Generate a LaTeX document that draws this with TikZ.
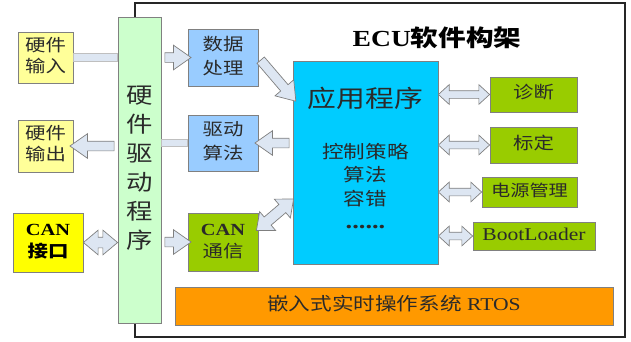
\documentclass[tikz,border=0pt]{standalone}
\usepackage{fontspec}
\setmainfont{Liberation Serif}
\newfontfamily\cjk{Noto Sans CJK SC}
\usetikzlibrary{shapes.arrows,calc}
\definecolor{lyellow}{HTML}{FFFF99}
\definecolor{byellow}{HTML}{FFFF00}
\definecolor{lgreen}{HTML}{CCFFCC}
\definecolor{lblue}{HTML}{99CCFF}
\definecolor{ygreen}{HTML}{99CC00}
\definecolor{cyanb}{HTML}{00CCFF}
\definecolor{orangeb}{HTML}{FF9900}
\definecolor{arrfill}{HTML}{DDE6F2}
\definecolor{arrline}{HTML}{7F7F7F}
\definecolor{boxline}{HTML}{808080}
\definecolor{txt}{HTML}{2A2A2A}
\newcommand\sx[1]{\scalebox{1.2}[1]{\begin{tabular}{@{}c@{}}#1\end{tabular}}}
\newcommand\fs[2]{\fontsize{#1}{#2}\selectfont}
\newcommand\blockarrow[3][]{\path let \p1=(#2), \p2=(#3), \n1={veclen(\x2-\x1,\y2-\y1)}, \n2={atan2(\y2-\y1,\x2-\x1)} in node[#1, minimum height=\n1, rotate=\n2] at ($(\p1)!0.5!(\p2)$) {};}
\begin{document}
\begin{tikzpicture}[x=1pt,y=-1pt,
  box/.style={draw=boxline, line width=0.8pt, inner sep=0pt, text=txt},
  sarr/.style={single arrow, draw=arrline, fill=arrfill, line width=0.7pt, inner xsep=0pt, inner ysep=4.5pt, single arrow head extend=7.5pt, single arrow tip angle=70, outer sep=0pt},
  darrL/.style={double arrow, draw=arrline, fill=arrfill, line width=0.7pt, inner xsep=0pt, inner ysep=5pt, double arrow head extend=7pt, double arrow tip angle=80, outer sep=0pt},
  darrS/.style={double arrow, draw=arrline, fill=arrfill, line width=0.7pt, inner xsep=0pt, inner ysep=3.5pt, double arrow head extend=6pt, double arrow tip angle=85, outer sep=0pt},
  band/.style={fill=arrfill, draw=arrline!50, line width=0.5pt}]
\useasboundingbox (0,0) rectangle (631,341);
% outer frame
\node[draw=black!85, line width=1.3pt, minimum width=490pt, minimum height=334pt, inner sep=0pt] (frame) at (380,170) {};
% title
\node[font=\fs{23}{26}] (title) at (437,38) {\scalebox{1.2}[1]{\textbf{ECU}{\cjk\bfseries 软件构架}}};
% left boxes
\node[box, fill=lyellow, minimum width=55pt, minimum height=51pt, font=\cjk\fs{17}{21}] (in) at (45.5,57.5) {\sx{硬件\\输入}};
\node[box, fill=lyellow, minimum width=55pt, minimum height=52pt, font=\cjk\fs{17}{21}] (out) at (45.5,146) {\sx{硬件\\输出}};
\node[box, fill=byellow, minimum width=70pt, minimum height=59pt, font=\fs{17}{22}, text=black] (can) at (48,242.5) {\sx{\textbf{CAN}\\{\cjk\bfseries 接口}}};
% driver column
\node[box, fill=lgreen, minimum width=43pt, minimum height=306pt, font=\cjk\fs{22}{29}] (drv) at (139.5,170) {\sx{硬\\件\\驱\\动\\程\\序}};
% middle boxes
\node[box, fill=lblue, minimum width=70pt, minimum height=57pt, font=\cjk\fs{17}{24}] (data) at (223,57.5) {\sx{数据\\处理}};
\node[box, fill=lblue, minimum width=70pt, minimum height=56pt, font=\cjk\fs{17}{24}] (alg) at (223,143) {\sx{驱动\\算法}};
\node[box, fill=ygreen, minimum width=70pt, minimum height=58pt, font=\fs{17}{22}] (comm) at (223,242) {\sx{\textbf{CAN}\\{\cjk 通信}}};
% application
\node[box, fill=cyanb, minimum width=145pt, minimum height=203pt] (app) at (365.5,162.5) {};
\node[font=\cjk\fs{24}{28}, text=txt] (apptitle) at (365.5,102) {\sx{应用程序}};
\node[font=\cjk\fs{18}{23.5}, text=txt] (applist) at (365.5,189) {\sx{控制策略\\算法\\容错\\{\rmfamily\bfseries\fs{22}{23.5}......}}};
% right boxes
\node[box, fill=ygreen, minimum width=87pt, minimum height=35pt, font=\cjk\fs{17}{20}] (diag) at (533.5,94.5) {\sx{诊断}};
\node[box, fill=ygreen, minimum width=87pt, minimum height=36pt, font=\cjk\fs{17}{20}] (cal) at (533.5,145) {\sx{标定}};
\node[box, fill=ygreen, minimum width=95pt, minimum height=30pt, font=\cjk\fs{16}{20}] (pwr) at (529.5,192) {\sx{电源管理}};
\node[box, fill=ygreen, minimum width=122pt, minimum height=28pt, font=\fs{18}{20}] (boot) at (534,236) {\sx{BootLoader}};
% RTOS
\node[box, fill=orangeb, minimum width=438pt, minimum height=38pt, font=\fs{18}{20}] (rtos) at (394,306) {\sx{{\cjk 嵌入式实时操作系统} RTOS}};
% bands
\draw[band] ($(in.east)+(0,-4)$) rectangle ($(drv.west |- in.east)+(0,4)$);
\draw[band] ($(drv.east |- alg.west)+(0,-4)$) rectangle ($(alg.west)+(0,3)$);
% arrows
\blockarrow[sarr]{drv.east |- data.west}{data.west}
\blockarrow[sarr]{$(data.east)+(0,0)$}{$(app.north west)+(1,38)$}
\blockarrow[sarr]{app.west |- alg.east}{alg.east}
\blockarrow[sarr]{drv.west |- out.east}{out.east}
\blockarrow[darrL]{can.east}{drv.west |- can.east}
\blockarrow[sarr]{drv.east |- comm.west}{comm.west}
\blockarrow[darrL]{$(comm.north east)+(-2,18)$}{$(app.west)+(1,36.5)$}
\blockarrow[darrS]{app.east |- diag.west}{diag.west}
\blockarrow[darrS]{app.east |- cal.west}{cal.west}
\blockarrow[darrS]{app.east |- pwr.west}{pwr.west}
\blockarrow[darrS]{app.east |- boot.west}{boot.west}
\end{tikzpicture}
\end{document}
